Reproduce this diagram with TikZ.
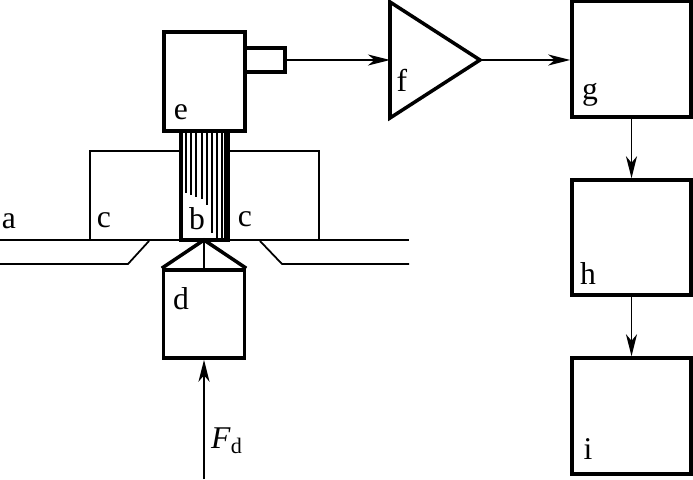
\documentclass[tikz,border=0pt]{standalone}
\usepackage{fontspec}
\setmainfont{Liberation Serif}
\usetikzlibrary{arrows.meta}
\tikzset{
  heavy/.style={line width=2pt},
  light/.style={line width=1pt},
  hair/.style={line width=0.7pt},
  blockbox/.style={draw,heavy,minimum width=#1,inner sep=0pt},
  signal/.style={light,-{Stealth[length=0.44cm,width=0.22cm,inset=0.13cm]}},
  letter/.style={font=\fontsize{18}{20}\selectfont,inner sep=0pt}
}
\begin{document}
\begin{tikzpicture}[scale=1.0]
\useasboundingbox (0,0) rectangle (13.86,9.58);
% sheet and its two recesses
\draw[light] (0,4.78) -- (8.18,4.78);
\draw[light] (0,4.3) -- (2.56,4.3) -- (2.98,4.76);
\draw[light] (5.2,4.76) -- (5.64,4.3) -- (8.18,4.3);
\draw[hair] (1.8,4.78) -- (1.8,6.56) -- (3.62,6.56);
\draw[hair] (4.56,6.56) -- (6.38,6.56) -- (6.38,4.78);

% fibre bundle
\node[blockbox=0.94cm,minimum height=2.18cm,line width=1.8pt] (bundle) at (4.09,5.87) {};
\draw[light] (3.72,6.96) -- (3.72,5.72);
\draw[light] (3.82,6.96) -- (3.82,5.68);
\draw[light] (3.92,6.96) -- (3.92,5.64);
\draw[light] (4.04,6.96) -- (4.04,5.6);
\draw[light] (4.14,6.96) -- (4.14,5.48);
\draw[hair] (4.24,6.96) -- (4.24,4.92);
\draw[light] (4.34,6.96) -- (4.34,4.8);
\draw[light] (4.44,6.96) -- (4.44,4.8);
\draw[light] (4.5,6.96) -- (4.5,4.8);

% detector with its output port
\node[blockbox=0.8cm,minimum height=0.48cm] (port) at (5.3,8.38) {};
\node[blockbox=1.62cm,minimum height=1.98cm,fill=white] (detector) at (4.09,7.95) {};

% probe under the sheet
\node[blockbox=1.62cm,minimum height=1.76cm] (probe) at (4.08,3.3) {};
\coordinate (tip) at (4.08,4.78);
\draw[heavy] (probe.north west) -- (tip) -- (probe.north east);
\draw[light] (probe.north) -- (tip);

% amplifier
\coordinate (ampA) at (7.8,9.54);
\coordinate (ampB) at (7.8,7.22);
\coordinate (ampOut) at (9.6,8.38);
\coordinate (ampIn) at (7.8,8.38);
\draw[heavy,line join=miter] (ampA) -- (ampOut) -- (ampB) -- cycle;

% processing chain
\node[blockbox=2.38cm,minimum height=2.32cm] (boxG) at (12.63,8.4) {};
\node[blockbox=2.38cm,minimum height=2.3cm] (boxH) at (12.63,4.83) {};
\node[blockbox=2.38cm,minimum height=2.32cm] (boxI) at (12.63,1.26) {};

\coordinate (force) at (4.08,0);
\draw[signal] (port.east) -- (ampIn);
\draw[signal] (ampOut) -- (boxG.west |- ampOut);
\draw[signal] (boxG.south) -- (boxH.north);
\draw[signal] (boxH.south) -- (boxI.north);
\draw[signal] (force) -- (probe.south);

\node[letter] (labelA) at (0.18,5.16) {a};
\node[letter] (labelC) at (2.08,5.18) {c};
\node[letter] (labelB) at (3.94,5.2) {b};
\node[letter] (labelCC) at (4.9,5.2) {c};
\node[letter] (labelD) at (3.62,3.6) {d};
\node[letter] (labelE) at (3.62,7.34) {e};
\node[letter] (labelF) at (8.04,7.98) {f};
\node[letter] (labelG) at (11.8,7.68) {g};
\node[letter] (labelH) at (11.76,4.1) {h};
\node[letter] (labelI) at (11.76,0.6) {i};
\node[letter] (labelFd) at (4.54,0.76) {\textit{F}\textsubscript{d}};
\end{tikzpicture}
\end{document}
